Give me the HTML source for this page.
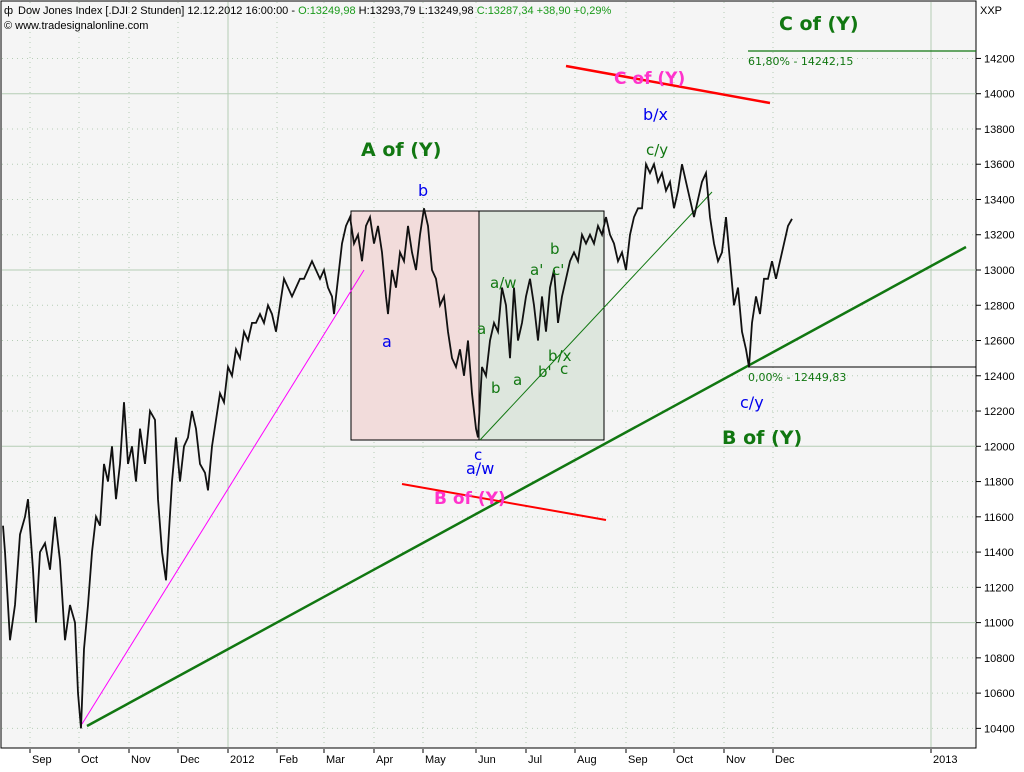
<!DOCTYPE html>
<html><head><meta charset="utf-8"><style>
body{margin:0;background:#fff;width:1024px;height:768px;overflow:hidden;font-family:"DejaVu Sans","Liberation Sans",sans-serif}
svg text{font-family:"DejaVu Sans","Liberation Sans",sans-serif}
svg text.sm{font-family:"Liberation Sans",sans-serif}
</style></head><body>
<svg id="chart" width="1024" height="768" xmlns="http://www.w3.org/2000/svg">
<rect x="1" y="1" width="975" height="747" fill="#f5f5f5" stroke="#000"/>
<g id="grid"></g>
<rect x="351" y="211" width="128" height="229" fill="#f2dcdb" stroke="#000"/>
<rect x="479" y="211" width="125" height="229" fill="#dde6dd" stroke="#000"/>
<g id="overlay"></g>
<g id="axes"></g>
<text class="sm" x="18" y="14" font-size="11" fill="#000">Dow Jones Index [.DJI  2 Stunden] 12.12.2012 16:00:00 - <tspan fill="#1a9a1a">O:13249,98</tspan> H:13293,79 L:13249,98 <tspan fill="#1a9a1a">C:13287,34 +38,90 +0,29%</tspan></text>
<text class="sm" x="4" y="29" font-size="11" fill="#000">© www.tradesignalonline.com</text>
<text class="sm" x="4" y="14" font-size="11">ф</text>
<text class="sm" x="980" y="14" font-size="11">XXP</text>
</svg>
<script>
const yTicks=[10400,10600,10800,11000,11200,11400,11600,11800,12000,12200,12400,12600,12800,13000,13200,13400,13600,13800,14000,14200];
const monthLabels=["Sep","Oct","Nov","Dec","2012","Feb","Mar","Apr","May","Jun","Jul","Aug","Sep","Oct","Nov","Dec","2013"];
const monthSessions=[15,39.5,64.5,89,114,138.5,162,187,211.5,238,263,287.5,313,337,362,386.5,465.5];
const sessions=[
1.5,2.5,5,7.5,10,12.5,14,16.5,18,20,
22.5,25,27.5,30,32.5,35,37.5,39,40.5,42,
44,46,48,50,52,54,56,58,60,62,
64,66,68,70,72.5,75,77.5,79,81,83,
86,88,90,92,94,96,98,100,102.5,104,
106,108,110,112,114,116,118,120,122,124,
126,128,130,132,134,136,138,140,142,144,
146,148,150,152,154,156,158,160,162,164,
166,167,169,171,173,175,177,179,181,183,
185,187,189,191,193,194,196,198,200,202,
204,206,208,210,212,214,216,218,220,222,
224,226,228,230,232,234,236,238,239,241,
243,245,247,249,251,253,255,257,259,261,
263,265,267,269,271,273,275,277,279,281,
283,285,287,289,291,293,295,297,299,301,
303,305,307,309,311,313,315,317,319,321,
323,325,327,329,331,333,335,337,339,341,
343,345,347,349,351,353,355,357,359,361,
363,365,367,369,371,373,374.5,376,378,380,
382,384,386,388,390,392,394,396];
const closes=[
11550,11400,10900,11100,11500,11600,11700,11300,11000,11400,
11450,11300,11600,11350,10900,11100,11000,10600,10400,10850,
11100,11400,11600,11550,11900,11800,12000,11700,11900,12250,
11900,12000,11800,12100,11900,12200,12150,11700,11400,11240,
11800,12050,11800,12000,12050,12200,12100,11900,11850,11750,
12000,12150,12300,12250,12450,12400,12550,12500,12650,12600,
12700,12700,12750,12700,12800,12750,12650,12800,12950,12900,
12850,12900,12950,12950,13000,13050,13000,12950,13000,12900,
12850,12750,12950,13150,13250,13300,13150,13200,13050,13250,
13300,13150,13250,13100,12850,12750,13000,12900,13100,13050,
13250,13100,13000,13200,13350,13250,13000,12950,12800,12850,
12650,12500,12450,12550,12400,12600,12300,12100,12050,12450,
12400,12600,12700,12650,12900,12800,12500,12900,12600,12700,
12850,12950,12800,12600,12850,12650,12900,13000,12700,12850,
12950,13050,13100,13050,13200,13150,13200,13150,13250,13200,
13300,13200,13150,13050,13100,13000,13200,13300,13350,13350,
13600,13550,13600,13500,13550,13450,13500,13350,13450,13600,
13500,13400,13300,13400,13500,13550,13300,13150,13050,13100,
13300,13050,12800,12900,12650,12550,12450,12700,12850,12750,
12950,12950,13050,12950,13050,13150,13250,13290];
const NS='http://www.w3.org/2000/svg';
const y=v=>270-(v-13000)*0.1763;
const x=s=>s*2;
function mk(tag,attrs,parent){const e=document.createElementNS(NS,tag);for(const k in attrs)e.setAttribute(k,attrs[k]);parent.appendChild(e);return e;}
const grid=document.getElementById('grid'),axes=document.getElementById('axes'),ov=document.getElementById('overlay');
yTicks.forEach(v=>{
 const solid=v%1000===0;
 const l=mk('line',{x1:2,x2:976,y1:y(v),y2:y(v),stroke:'#b5cdb5','stroke-dasharray':solid?'':'1,4'},grid);
 
 
 const t=mk('line',{x1:976,x2:981,y1:y(v),y2:y(v),stroke:'#000'},axes);
 
 
 const tx=mk('text',{x:984,y:y(v)+4,'font-size':11,class:'sm'},axes);tx.textContent=v;
 
 
});
monthLabels.forEach((m,i)=>{
 const xx=x(monthSessions[i]);const solid=/^\d/.test(m);
 const l=mk('line',{x1:xx,x2:xx,y1:2,y2:747,stroke:'#b5cdb5','stroke-dasharray':solid?'':'1,4'},grid);
 
 
 const t=mk('line',{x1:xx,x2:xx,y1:749,y2:753,stroke:'#000'},axes);
 
 
 const tx=mk('text',{x:xx+2,y:763,'font-size':11,class:'sm'},axes);tx.textContent=m;
 
 
});
function line(n,x1,y1,x2,y2,c,w){const l=mk('line',{x1,y1,x2,y2,stroke:c,'stroke-width':w},ov);}
line('magenta-trendline',82,724,364,270,'#ff00ff',1);
line('green-support-line',87,726,966,247,'#117711',2.5);
line('thin-green-trendline',480,440,712,192,'#117711',1);
line('red-line-upper',566,66,770,103,'#ff0000',2.5);
line('red-line-lower',402,484,606,520,'#ff0000',2);
line('fib-618-line',748,51,976,51,'#117711',1.2);
line('fib-0-line',748,367,976,367,'#000',1);
const n=Math.min(sessions.length,closes.length);
const pts=[];for(let i=0;i<n;i++)pts.push(x(sessions[i])+','+y(closes[i]));
const p=mk('polyline',{points:pts.join(' '),fill:'none',stroke:'#111','stroke-width':1.8},ov);


const labels=[['wave-label-A','A of (Y)',361,156,19,'#117711','bold'],['wave-label-C','C of (Y)',779,30,19,'#117711','bold'],['wave-label-B','B of (Y)',722,444,19,'#117711','bold'],
['wave-label-C-pink','C of (Y)',614,84,17,'#ff33cc','bold'],['wave-label-B-pink','B of (Y)',434,504,17,'#ff33cc','bold'],
['fib-618-label','61,80% - 14242,15',748,65,11,'#117711','normal'],['fib-0-label','0,00% - 12449,83',748,381,11,'#117711','normal'],
['lbl-b-blue','b',418,196,16,'#0000ee','normal'],['lbl-a-blue','a',382,347,16,'#0000ee','normal'],['lbl-c-blue','c',474,460,15,'#0000ee','normal'],['lbl-aw-blue','a/w',466,474,16,'#0000ee','normal'],
['lbl-bx-blue','b/x',643,120,16,'#0000ee','normal'],['lbl-cy-blue','c/y',740,408,16,'#0000ee','normal'],['lbl-cy-green','c/y',646,155,15,'#117711','normal'],
['lbl-a1','a',477,334,15,'#117711','normal'],['lbl-b1','b',491,393,15,'#117711','normal'],['lbl-aw','a/w',490,288,15,'#117711','normal'],['lbl-a2','a',513,385,15,'#117711','normal'],
['lbl-a-prime',"a'",530,275,15,'#117711','normal'],['lbl-c-prime',"c'",552,275,15,'#117711','normal'],['lbl-b2','b',550,254,15,'#117711','normal'],
['lbl-bx','b/x',548,361,15,'#117711','normal'],['lbl-b-prime',"b'",538,377,15,'#117711','normal'],['lbl-c','c',560,374,15,'#117711','normal']];
labels.forEach(a=>{const t=mk('text',{x:a[2],y:a[3],'font-size':a[4],fill:a[5],'font-weight':a[6]},ov);t.textContent=a[1];
 
 });
</script>
</body></html>
